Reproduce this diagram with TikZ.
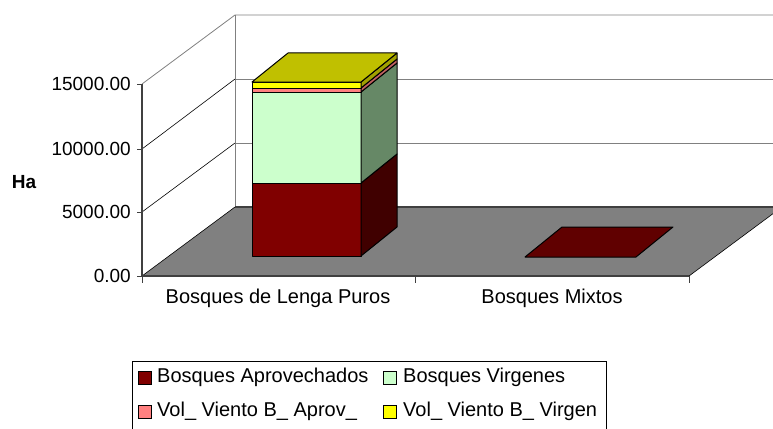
\documentclass[tikz,border=0pt]{standalone}
\usepackage{fontspec}
\setmainfont{Liberation Sans}
\usepackage{tikz}

\definecolor{floorgray}{HTML}{808080}
\definecolor{aprov}{HTML}{800000}
\definecolor{aprovside}{HTML}{400000}
\definecolor{aprovtop}{HTML}{600000}
\definecolor{virg}{HTML}{CCFFCC}
\definecolor{virgside}{HTML}{668866}
\definecolor{vaprov}{HTML}{FF8080}
\definecolor{vaprovside}{HTML}{C06060}
\definecolor{vvirg}{HTML}{FFFF00}
\definecolor{vvirgside}{HTML}{A0A000}
\definecolor{vvirgtop}{HTML}{C0C000}

\begin{document}
\begin{tikzpicture}[x=1pt,y=-1pt,
  lbl/.style={font=\fontsize{20}{24}\selectfont,inner sep=0pt},
  ax/.style={font=\fontsize{19}{22}\selectfont,inner sep=0pt,anchor=east},
  key/.style={draw,line width=1pt,minimum size=13pt,inner sep=0pt},
  face/.style={draw,line width=1pt,line join=round}]
\useasboundingbox (0,0) rectangle (773,428);
\clip (0,0) rectangle (773,428);
\fill[floorgray] (142,276) -- (689,276) -- (782,207) -- (235,207) -- cycle;
\draw[gray,line width=0.8pt] (142,84) -- (235,15) -- (782,15);
\draw[gray,line width=0.8pt] (235,15) -- (235,207);
\draw[gray,line width=0.8pt] (235,79) -- (782,79);
\draw[gray,line width=0.8pt] (235,143) -- (782,143);
\draw[line width=0.6pt] (142,149) -- (235,79);
\draw[line width=0.6pt] (142,212) -- (235,143);
\draw[darkgray,line width=1.2pt] (235,207) -- (782,207);
\draw[line width=0.6pt] (142,276) -- (235,207);
\draw[line width=0.6pt] (689,276) -- (782,207);
\draw[darkgray,line width=1.5pt] (142,84) -- (142,276) -- (689,276);
\foreach \y in {84,149,212,276} \draw[darkgray,line width=1pt] (137,\y) -- (142,\y);
\foreach \x in {142,415,689} \draw[darkgray,line width=1pt] (\x,276) -- (\x,283);

\foreach \lo/\hi/\fc/\sc in {256/183/aprov/aprovside,183/92/virg/virgside,92/88/vaprov/vaprovside,88/82/vvirg/vvirgside}{
  \draw[face,fill=\fc] (252,\lo) rectangle (361,\hi);
  \draw[face,fill=\sc] (361,\lo) -- ++(36,-29) -- (397,\hi-29) -- (361,\hi) -- cycle;
}
\draw[face,fill=vvirgtop] (252,82) -- (361,82) -- (397,53) -- (288,53) -- cycle;
\draw[face,fill=aprovtop] (525,257) -- (636,257) -- (673,227) -- (562,227) -- cycle;

\node[ax] (v0) at (131,276) {0.00};
\node[ax] (v1) at (131,212) {5000.00};
\node[ax] (v2) at (131,149) {10000.00};
\node[ax] (v3) at (131,84) {15000.00};
\node[font=\fontsize{19}{22}\selectfont\bfseries,inner sep=0pt] (ha) at (24,182) {Ha};
\node[lbl] (c1) at (278,298) {Bosques de Lenga Puros};
\node[lbl] (c2) at (552,298) {Bosques Mixtos};

\draw[line width=1pt] (132,440) -- (132,361) -- (606,361) -- (606,440);
\node[key,fill=aprov] (k1) at (145,378) {};
\node[key,fill=virg] (k2) at (390,378) {};
\node[key,fill=vaprov] (k3) at (145,412) {};
\node[key,fill=vvirg] (k4) at (390,412) {};
\node[lbl,anchor=west] (l1) at (157,377) {Bosques Aprovechados};
\node[lbl,anchor=west] (l2) at (403,377) {Bosques Virgenes};
\node[lbl,anchor=west] (l3) at (157,411) {Vol\_ Viento B\_ Aprov\_};
\node[lbl,anchor=west] (l4) at (403,411) {Vol\_ Viento B\_ Virgen};
\end{tikzpicture}
\end{document}
